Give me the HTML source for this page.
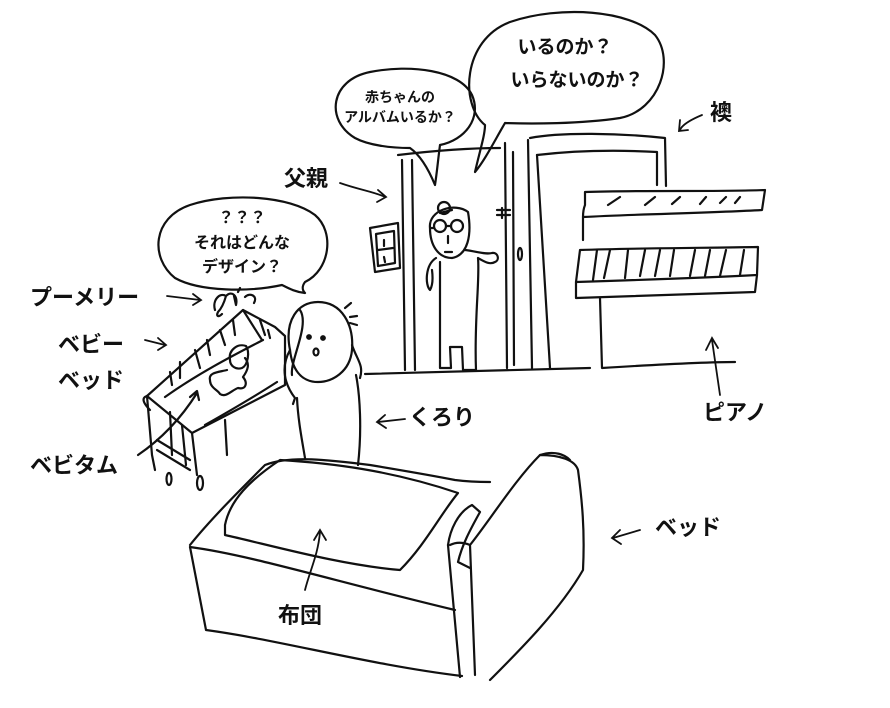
<!DOCTYPE html>
<html><head><meta charset="utf-8"><style>
html,body{margin:0;padding:0;background:#fff;}
svg{display:block;}
text{font-family:"Liberation Sans","Noto Sans CJK JP",sans-serif;font-weight:bold;fill:#111;}
</style></head><body>
<svg width="890" height="708" viewBox="0 0 890 708" xmlns="http://www.w3.org/2000/svg">
<g fill="none" stroke="#111" stroke-width="2.2" stroke-linecap="round" stroke-linejoin="round">
<path d="M485 125 C460 105 462 40 510 22 C560 5 630 10 655 35 C675 60 660 110 620 118 C580 124 530 124 505 123 C495 140 485 160 475 172 C480 150 485 135 485 125 Z"/>
<path d="M355 138 C325 120 330 80 370 72 C410 64 460 70 472 95 C482 118 465 140 440 145 C438 160 437 172 435 185 C428 168 420 155 410 148 C390 148 368 145 355 138 Z"/>
<path d="M175 278 C150 258 152 218 190 205 C230 192 290 196 315 215 C335 232 330 270 305 282 C302 286 302 290 305 293 C295 292 288 288 282 285 C250 292 200 292 175 278 Z"/>
<path d="M398 155 C440 150 470 148 500 148"/>
<path d="M402 160 L405 370"/>
<path d="M412 160 L415 370"/>
<path d="M505 143 L507 368"/>
<path d="M513 152 L514 365"/>
<path d="M530 138 C560 132 620 133 665 138 L666 186"/>
<path d="M528 140 L532 368"/>
<path d="M537 155 C580 150 620 150 657 152 L657 185"/>
<path d="M537 155 L550 368"/>
<path d="M497 210 L510 210 M497 215 L510 215 M502 208 L502 218"/>
<ellipse cx="520" cy="254" rx="2" ry="6"/>
<path d="M365 374 C450 372 520 370 590 368"/>
<path d="M370 228 L398 223 L400 268 L375 272 Z"/>
<path d="M376 234 L394 231 L395 263 L378 266 Z"/>
<path d="M378 250 L393 248 M384 240 L384 246 M384 257 L385 262"/>
<path d="M585 205 L585 192 C640 190 720 192 765 190 M583 217 C640 214 710 213 762 210 L765 190 M585 205 C583 210 583 214 583 217"/>
<path d="M608 205 L620 197 M645 205 L655 197 M672 204 L680 197 M700 204 L706 197 M720 203 L726 197 M735 203 L740 197"/>
<path d="M583 217 L583 240"/>
<path d="M580 250 C640 248 700 248 758 247 L757 275 C700 278 640 280 576 282 Z"/>
<path d="M576 282 L576 298 C640 296 700 294 755 292 L757 275"/>
<path d="M593 280 L597 250 M604 278 L610 250 M625 278 L628 250 M640 276 L645 250 M655 276 L660 250 M670 276 L674 250 M690 276 L695 250 M705 276 L710 250 M720 276 L726 250 M740 275 L744 250"/>
<path d="M600 298 L602 368 C650 365 700 362 735 362"/>
<circle cx="444" cy="208" r="6"/>
<path d="M430 228 C428 210 455 202 468 212 C472 235 468 255 452 258 C438 258 430 245 430 228 Z"/>
<circle cx="440" cy="226" r="6"/><circle cx="457" cy="226" r="6"/>
<path d="M434 228 L430 228 M446 226 L451 226 M440 213 L452 210"/>
<path d="M448 236 L448 243 M445 252 L452 252"/>
<path d="M436 258 C425 265 425 285 430 290 C433 285 433 278 432 270 M440 262 L440 368 L451 368 L450 347 L462 347 L463 370 L476 370 C474 320 480 280 478 258 C485 262 490 265 495 262 C500 260 498 252 492 253 C485 255 470 250 465 250"/>
<path d="M215 310 C212 300 220 292 226 296 C224 303 222 308 218 312 M226 296 C232 290 238 296 236 305 L234 296 M245 297 C250 292 258 296 254 303 M238 292 L240 288 M222 314 C218 318 216 316 218 312"/>
<path d="M147 396 L243 310 L275 327 L285 336 L285 385 L192 433 Z"/>
<path d="M147 396 C140 398 145 405 150 410"/>
<path d="M243 310 L262 340"/>
<path d="M165 397 C200 372 240 352 263 340"/>
<path d="M205 425 C235 408 260 393 277 382"/>
<path d="M170 372 L172 385 M180 362 L180 378 M195 350 L200 368 M207 340 L210 355 M220 330 L225 345 M233 320 L235 335 M260 320 L265 335 M268 330 L270 338"/>
<path d="M147 396 L152 455 L155 470 M192 433 L197 475 M170 412 L172 455 M182 425 L186 465 M225 420 L227 455"/>
<path d="M157 440 L190 460 M157 450 L190 470"/>
<ellipse cx="169" cy="479" rx="2.5" ry="6"/><ellipse cx="200" cy="483" rx="3" ry="7"/>
<path d="M227 370 C220 372 208 372 210 380 C210 388 218 390 220 394 C226 398 232 390 238 388 C246 390 248 383 243 377 C248 370 250 364 245 358"/>
<path d="M230 360 C228 350 238 343 246 346 C250 352 248 365 242 368 C236 370 230 366 230 360 Z"/>
<path d="M138 455 C160 440 180 420 197 393 M190 397 L197 391 L199 400"/>
<path d="M290 350 C284 320 298 302 318 302 C342 302 354 325 352 350 C350 372 332 382 318 382 C300 382 292 368 290 350 Z"/>
<path d="M290 350 C280 368 285 385 295 398 L293 404 M300 310 C310 325 290 360 292 375 M352 345 C357 360 364 365 360 378"/>
<path d="M297 398 C298 420 302 440 305 458 M356 375 C360 395 362 430 358 465"/>
<path d="M345 308 L351 303 M350 317 L357 316 M350 323 L357 325"/>
<circle cx="309" cy="337" r="1.8" fill="#111"/><circle cx="323" cy="338" r="1.8" fill="#111"/>
<ellipse cx="316" cy="352" rx="2.5" ry="3.5"/>
<path d="M190 545 C210 520 240 490 265 465 C290 455 330 460 370 465 C400 470 430 475 455 480 C470 482 480 482 490 482"/>
<path d="M225 525 C230 500 250 480 280 460 C330 463 390 470 458 493 C440 515 425 545 400 570 C340 565 270 545 225 535 Z"/>
<path d="M190 547 C250 555 330 580 455 610"/>
<path d="M190 547 L206 630 C280 640 370 665 462 676"/>
<path d="M448 545 L460 677"/>
<path d="M448 545 C450 530 458 512 472 505 L480 512 C470 530 462 545 458 562 L470 568"/>
<path d="M450 545 C460 540 470 545 470 545 C490 520 515 480 540 455 C560 455 575 460 578 470 C582 500 585 530 583 570 C560 610 520 650 490 680 M470 545 L475 675"/>
<path d="M540 455 C555 450 565 455 570 460"/>
</g>
<g fill="none" stroke="#111" stroke-width="1.8" stroke-linecap="round">
<path d="M340 183 C360 190 375 192 385 197 M378 190 L386 197 L377 202"/>
<path d="M702 115 C690 120 682 125 680 130 M680 120 L679 131 L688 130"/>
<path d="M167 296 L200 300 M193 294 L201 300 L193 305"/>
<path d="M145 340 L165 345 M158 338 L166 345 L158 350"/>
<path d="M405 419 L378 422 M385 415 L377 422 L386 428"/>
<path d="M720 395 L712 340 M706 350 L712 338 L718 348"/>
<path d="M640 530 L613 538 M620 530 L612 538 L621 544"/>
<path d="M305 590 C310 570 318 555 320 532 M314 540 L320 530 L326 540"/>
</g>
<text x="565" y="53" font-size="19" text-anchor="middle">いるのか？</text>
<text x="577" y="86" font-size="19" text-anchor="middle">いらないのか？</text>
<text x="400" y="102" font-size="14" text-anchor="middle">赤ちゃんの</text>
<text x="400" y="122" font-size="14" text-anchor="middle">アルバムいるか？</text>
<text x="242" y="223" font-size="16" text-anchor="middle">？？？</text>
<text x="242" y="248" font-size="16" text-anchor="middle">それはどんな</text>
<text x="242" y="272" font-size="16" text-anchor="middle">デザイン？</text>
<text x="284" y="186" font-size="22">父親</text>
<text x="710" y="120" font-size="22">襖</text>
<text x="30" y="305" font-size="22">プーメリー</text>
<text x="58" y="352" font-size="22">ベビー</text>
<text x="58" y="388" font-size="22">ベッド</text>
<text x="30" y="473" font-size="22">ベビタム</text>
<text x="409" y="425" font-size="22">くろり</text>
<text x="703" y="420" font-size="22">ピアノ</text>
<text x="655" y="535" font-size="22">ベッド</text>
<text x="278" y="623" font-size="22">布団</text>
</svg>
</body></html>
